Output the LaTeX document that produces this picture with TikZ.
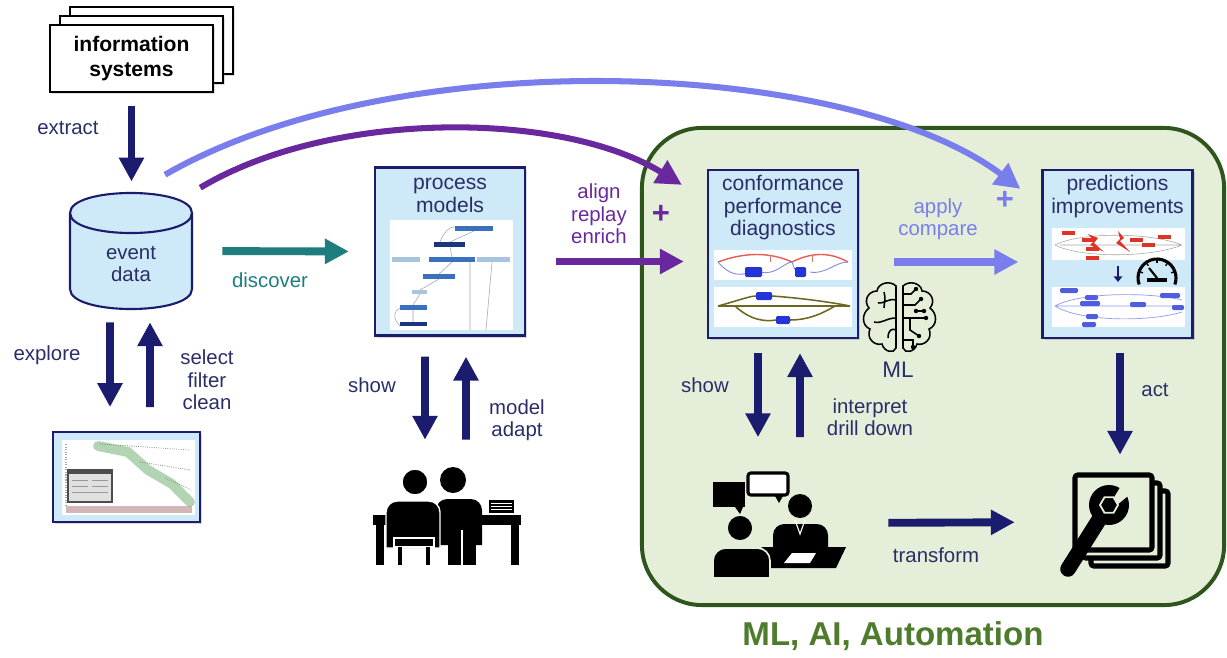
\documentclass[tikz,border=0pt]{standalone}
\usepackage{fontspec}
\setmainfont{Liberation Sans}
\usetikzlibrary{arrows.meta,shadows}

\definecolor{navy}{RGB}{28,28,110}
\definecolor{navytxt}{RGB}{42,46,104}
\definecolor{boxblue}{RGB}{206,234,248}
\definecolor{periw}{RGB}{122,126,236}
\definecolor{purp}{RGB}{106,40,158}
\definecolor{tealc}{RGB}{30,126,126}
\definecolor{mlfill}{RGB}{228,238,216}
\definecolor{mlline}{RGB}{46,86,28}
\definecolor{mltxt}{RGB}{78,124,44}
\definecolor{mapblue}{RGB}{36,52,214}
\definecolor{mapmid}{RGB}{58,112,190}
\definecolor{mapdark}{RGB}{26,54,124}
\definecolor{mappale}{RGB}{168,196,222}
\definecolor{mapred}{RGB}{222,52,40}

\begin{document}
\begin{tikzpicture}[x=0.025cm,y=-0.025cm,every node/.style={inner sep=0pt},
  lbl/.style={font=\fontsize{14.5}{16}\selectfont,text=navytxt,align=center},
  ttl/.style={font=\fontsize{15}{15.4}\selectfont,text=navytxt,align=center,anchor=north},
  box/.style={draw=navy,line width=1.6pt,fill=boxblue,minimum width=3.75cm,minimum height=4.2cm,
    drop shadow={opacity=.3,shadow xshift=1.5pt,shadow yshift=-1.5pt}},
  fat/.style={line width=5.6pt,-{Triangle[length=17pt,width=17pt]}},
  curvy/.style={line width=4.3pt,-{Triangle[length=18pt,width=18pt]}},
  plus/.style={font=\fontsize{22}{22}\bfseries},
  mini/.style={rounded corners=1pt},
]
\useasboundingbox (0,0) rectangle (1227,657);
\fill[white] (0,0) rectangle (1227,657);

% green automation area
\node[draw=mlline,fill=mlfill,line width=2.8pt,rounded corners=1.5cm,
  minimum width=14.55cm,minimum height=11.925cm] (ml) at (933,366.5) {};
\node[font=\fontsize{23.5}{24}\bfseries,text=mltxt] (mlai) at ([xshift=-1cm,yshift=-0.725cm]ml.south) {ML, AI, Automation};

% information systems (stacked sheets)
\foreach \d in {20,10}
  \draw[line width=1.2pt,fill=white,drop shadow={opacity=.25,shadow xshift=1.2pt,shadow yshift=-1.2pt}]
    (50+\d,25-0.9*\d) rectangle (213+\d,92-0.9*\d);
\node[draw,line width=1.2pt,fill=white,minimum width=4.075cm,minimum height=1.675cm,
  font=\fontsize{15}{17.8}\selectfont\bfseries,align=center,
  drop shadow={opacity=.25,shadow xshift=1.2pt,shadow yshift=-1.2pt}] (is) at (131.5,58.5) {information\\systems};

% event data cylinder
\node[minimum width=3.075cm,minimum height=2.9cm] (db) at (131,251) {};
\begin{scope}[shift={(db)},navy,line width=1.5pt]
  \draw[fill=boxblue] (-61,-38) -- (-61,38) .. controls (-61,64.7) and (61,64.7) .. (61,38)
    -- (61,-38) .. controls (61,-64.7) and (-61,-64.7) .. cycle;
  \draw (-61,-38) .. controls (-61,-11.3) and (61,-11.3) .. (61,-38);
\end{scope}
\node[lbl] (dbt) at (131,264) {event\\data};

% log view
\node[box,line width=1.3pt,minimum width=3.675cm,minimum height=2.25cm] (sc) at (126.5,477) {};
\fill[white] (62,440) rectangle (195,515);
\draw[green!45!black,opacity=.3,line width=7pt,line cap=round] (98,446) -- (128,452) -- (148,470) -- (172,484) -- (190,502);
\draw[black!45,densely dotted,line width=.6pt] (100,444) -- (190,450) (140,462) -- (190,470) (165,478) -- (192,490);
\draw[black!35,densely dotted,line width=.8pt] (66,444) -- (66,505);
\draw[draw=black!70,fill=black!12,line width=1pt] (68,470) rectangle (112,502);
\fill[black!70] (68,470) rectangle (112,474);
\draw[black!40,line width=.5pt] (72,480) -- (88,480) (72,486) -- (88,486) (92,480) -- (108,480) (92,486) -- (108,486) (72,492) -- (108,492);
\fill[red!25!gray,opacity=.45] (66,506) rectangle (192,513);

% process models
\node[box] (pm) at (450,251.5) {};
\node[ttl] (pmt) at ([yshift=-0.19cm]pm.north) {\strut process\\models};
\fill[white] (390,220) rectangle (513,330);
\draw[black!35,line width=.4pt] (474,231) -- (450,242) (450,247) -- (452,257) (452,262) -- (439,274)
  (439,279) -- (420,290) (420,294) -- (413,305) (413,310) -- (413,322)
  (465,231) .. controls (455,222) and (445,228) .. (440,242)
  (470,262) -- (470,330) (492,262) -- (486,330) (400,326) .. controls (392,318) and (394,310) .. (400,308);
\foreach \a/\b/\c/\d/\col in {455/226/493/231/mapmid, 434/242/465/247/mapdark, 392/257/420/262/mappale,
    429/257/475/262/mapmid, 477/257/510/262/mappale, 423/274/455/279/mapmid, 412/290/427/294/mappale,
    400/305/427/310/mapmid, 400/322/427/326/mapdark}
  \fill[\col] (\a,\b) rectangle (\c,\d);

% conformance box
\node[box] (cf) at (783,254) {};
\node[ttl] (cft) at ([yshift=-0.15cm]cf.north) {\strut conformance\\performance\\diagnostics};
\fill[white] (714,250) rectangle (852,280);
\fill[white] (714,287) rectangle (852,327);
\draw[mapred!80,line width=1pt] (718,262) .. controls (745,252) and (770,252) .. (792,262)
  .. controls (812,252) and (830,252) .. (848,262);
\draw[mapblue!60,line width=.6pt] (718,262) .. controls (730,276) and (740,276) .. (750,272)
  (760,272) .. controls (775,276) and (785,262) .. (792,262) .. controls (796,275) and (800,275) .. (805,272)
  (810,272) .. controls (825,275) and (835,262) .. (848,262);
\draw[mapred!70,line width=.6pt] (770,255) -- (770,262) (812,255) -- (812,262);
\fill[mapblue,mini] (745,267) rectangle (762,277);
\fill[mapblue,mini] (795,267) rectangle (806,277);
\draw[olive!70!black,line width=1.1pt] (718,306) .. controls (740,300) and (750,296) .. (756,296)
  (772,296) .. controls (800,298) and (830,302) .. (850,306)
  (718,306) -- (850,306)
  (735,306) .. controls (750,320) and (765,322) .. (776,320)
  (790,320) .. controls (810,320) and (825,312) .. (835,306);
\fill[mapblue,mini] (756,292) rectangle (772,300);
\fill[mapblue,mini] (776,316) rectangle (790,324);

% predictions box
\node[box] (pr) at (1117.5,254) {};
\node[ttl] (prt) at ([yshift=-0.15cm]pr.north) {\strut predictions\\improvements};
\fill[white] (1052,228) rectangle (1185,260);
\fill[white] (1052,287) rectangle (1185,327);
\draw[black!35,line width=.4pt] (1055,245) .. controls (1080,232) and (1150,232) .. (1182,245)
  (1055,245) .. controls (1080,258) and (1150,258) .. (1182,245) (1060,245) -- (1180,245);
\foreach \a/\b in {1062/231,1082/238,1086/247,1086/256,1130/238,1142/243,1158/235}
  \fill[mapred] (\a,\b) rectangle (\a+13,\b+4);
\fill[mapred] (1088,234) -- (1098,238) -- (1094,243) -- (1104,252) -- (1090,245) -- (1094,241) -- cycle;
\fill[mapred] (1118,231) -- (1124,238) -- (1120,241) -- (1130,252) -- (1116,243) -- (1120,239) -- cycle;
\draw[navy,line width=1.6pt,-{Triangle[length=4pt,width=6pt]}] (1118,266) -- (1118,282);
\draw[line width=2.2pt] (1157,278) ++(-200:19) arc[start angle=-200,end angle=20,radius=19];
\fill (1147,278) rectangle (1167,282);
\draw[line width=1.5pt] (1157,278) -- (1149,268);
\foreach \t in {-160,-125,-90,-55,-20}
  \draw[line width=1pt] (1157,278) ++(\t:15) -- ++(\t:3);
\draw[mapblue!50,line width=.5pt] (1055,306) .. controls (1080,292) and (1150,292) .. (1182,300)
  (1055,306) -- (1182,306) (1055,306) .. controls (1080,322) and (1150,322) .. (1182,312);
\foreach \a/\b/\w in {1060/288/18,1085/295/13,1080/301/20,1130/302/16,1160/293/20,1086/314/12,1082/322/14,1172/305/12}
  \fill[mapblue!80,mini] (\a,\b) rectangle (\a+\w,\b+5);

% brain
\node[minimum width=1.75cm,minimum height=1.8cm] (br) at (899,318) {};
\begin{scope}[line width=1.1pt]
  \draw (896,286) .. controls (890,280) and (878,283) .. (877,291)
    .. controls (868,291) and (863,301) .. (869,308)
    .. controls (861,314) and (862,326) .. (870,329)
    .. controls (866,338) and (874,346) .. (882,344)
    .. controls (884,352) and (894,354) .. (896,348) -- cycle;
  \draw (896,300) .. controls (888,298) and (884,304) .. (878,303)
    (896,318) .. controls (886,318) and (882,324) .. (874,322)
    (888,338) .. controls (888,330) and (892,328) .. (896,330)
    (884,292) .. controls (886,298) and (884,304) .. (884,308);
  \begin{scope}[shift={(1799,0)},xscale=-1]
    \draw (896,286) .. controls (890,280) and (878,283) .. (877,291)
      .. controls (868,291) and (863,301) .. (869,308)
      .. controls (861,314) and (862,326) .. (870,329)
      .. controls (866,338) and (874,346) .. (882,344)
      .. controls (884,352) and (894,354) .. (896,348) -- cycle;
  \end{scope}
  \draw (903,294) -- (911,294) -- (916,289) (903,305) -- (915,305) -- (921,299)
    (903,318) -- (926,318) (910,318) -- (910,330) -- (919,336) (903,340) -- (913,340) -- (913,347)
    (916,311) -- (924,311);
  \foreach \p in {(916,289),(921,299),(926,318),(919,336),(913,347),(924,311),(916,311)}
    \fill \p circle[radius=2.2];
\end{scope}
\node[lbl,font=\fontsize{16}{16}\selectfont] (lml) at (898,370) {ML};

% analysts at a desk
\node[minimum width=3.625cm,minimum height=2.5cm] (pp) at (448,515) {};
\fill (453,480) circle[radius=13];
\fill (436,545) [rounded corners=8pt] -- (436,499) -- (482,499) [sharp corners] -- (482,545) -- cycle;
\fill (448,527) rectangle (476,565);
\draw[white,line width=.8pt] (462,530) -- (462,565);
\fill (373,515) rectangle (521,525);
\fill (376,525) rectangle (384,565);
\fill (511,525) rectangle (519,565);
\fill (489,500) rectangle (514,513);
\foreach \yy in {503,506,509} \draw[white,line width=.6pt] (491,\yy) -- (512,\yy);
\filldraw[draw=white,line width=1pt] (415,482) circle[radius=13];
\filldraw[draw=white,line width=1pt] (386,548) [rounded corners=8pt] -- (386,501) -- (440,501) [sharp corners] -- (440,548) -- cycle;
\filldraw[draw=white,line width=1pt] (394,538) rectangle (434,547);
\draw[line width=3pt] (400,547) -- (400,565) (428,547) -- (428,565);

% meeting
\node[minimum width=3.325cm,minimum height=2.675cm] (mt) at (778,523) {};
\fill (713,482) rectangle (745,507);
\fill (735,507) -- (743,507) -- (740,514) -- cycle;
\draw[line width=2.2pt,fill=white,rounded corners=2pt] (748,473) rectangle (788,495);
\fill (775,496) -- (783,496) -- (779,503) -- cycle;
\fill (800,506) circle[radius=12];
\fill (773,548) [rounded corners=8pt] -- (773,524) -- (828,524) [sharp corners] -- (828,548) -- cycle;
\draw[white,line width=.8pt] (795,520) -- (800,534) -- (805,520);
\fill (762,547) -- (846,547) -- (836,568) -- (748,568) -- cycle;
\fill[white] (792,553) -- (816,553) -- (810,563) -- (784,563) -- cycle;
\filldraw[draw=mlfill,line width=1.2pt] (740,528) circle[radius=13];
\filldraw[draw=mlfill,line width=1.2pt] (713,578) [rounded corners=9pt] -- (713,548) -- (770,548) [sharp corners] -- (770,578) -- cycle;

% improvement tool
\node[minimum width=2.55cm,minimum height=2.75cm] (tl) at (1121,530) {};
\foreach \d in {16,8,0}
  \draw[line width=3.6pt,fill=mlfill,rounded corners=2pt] (1075+\d,475+\d) rectangle (1152+\d,550+\d);
\draw[line width=11pt,line cap=round] (1068,569) -- (1102,515);
\fill (1109,505) circle[radius=20];
\fill[mlfill] (1113,499) -- (1124,481) -- (1134,491) -- (1117,505) -- cycle;
\filldraw[draw=mlfill,line width=1.3pt] (1109,505) +(0:9) -- +(60:9) -- +(120:9) -- +(180:9) -- +(240:9) -- +(300:9) -- cycle;

% flows
\coordinate (s1) at ([shift={(34,-18)}]db.north);
\coordinate (e1) at ([shift={(-21,20)}]pr.north west);
\coordinate (s2) at ([shift={(7.5,-5)}]db.north east);
\coordinate (e2) at ([shift={(-25,16)}]cf.north west);
\draw[curvy,periw] (s1) .. controls (400,40) and (850,60) .. (e1);
\draw[curvy,purp] (s2) .. controls (330,110) and (560,110) .. (e2);

\draw[fat,navy,shorten <=0.33cm,shorten >=0.28cm] (is.south) -- (is.south |- db.north);
\draw[fat,navy,shorten <=0.325cm,shorten >=0.6cm] ([xshift=-0.525cm]db.south) -- ([xshift=-0.4125cm]sc.north);
\draw[fat,navy,shorten <=0.6cm,shorten >=0.325cm] ([xshift=0.5875cm]sc.north) -- ([xshift=0.475cm]db.south);
\draw[fat,tealc,shorten <=0.74cm,shorten >=0.625cm] (db.east) -- (pm.west);
\draw[fat,navy,shorten <=0.5cm,shorten >=0.625cm] ([xshift=-0.625cm]pm.south) -- ([xshift=-0.575cm]pp.north);
\draw[fat,navy,shorten <=0.625cm,shorten >=0.5cm] ([xshift=0.45cm]pp.north) -- ([xshift=0.4cm]pm.south);
\draw[fat,purp,shorten <=0.75cm,shorten >=0.575cm] ([yshift=-0.25cm]pm.east) -- ([yshift=-0.25cm]pm.east -| cf.west);
\draw[fat,periw,shorten <=0.875cm,shorten >=0.575cm] ([yshift=-0.2cm]cf.east) -- ([yshift=-0.2cm]cf.east -| pr.west);
\draw[fat,navy,shorten <=0.35cm,shorten >=0.8cm] ([xshift=-0.625cm]cf.south) -- ([xshift=-0.5cm]mt.north);
\draw[fat,navy,shorten <=0.8cm,shorten >=0.35cm] ([xshift=0.55cm]mt.north) -- ([xshift=0.425cm]cf.south);
\draw[fat,navy,shorten <=0.35cm,shorten >=0.5cm] ([xshift=0.0625cm]pr.south) -- ([xshift=-0.025cm]tl.north);
\draw[fat,navy,shorten <=1.09cm,shorten >=1.375cm] (mt.east) -- ([yshift=0.2cm]tl.west);

% labels
\node[lbl] (lex) at (68,128) {extract};
\node[lbl] (lexp) at (47,355) {explore};
\node[lbl] (lsel) at (207,380) {select\\filter\\clean};
\node[lbl,text=tealc] (ldis) at (270,280) {discover};
\node[lbl] (lsh1) at (372,385) {show};
\node[lbl] (lmod) at (517,420) {model\\adapt};
\node[lbl,text=purp] (lali) at (599,214) {align\\replay\\enrich};
\node[plus,text=purp] (pl1) at (661,214) {+};
\node[lbl,text=periw] (lapp) at (938,219) {apply\\compare};
\node[plus,text=periw] (pl2) at (1005,200) {+};
\node[lbl] (lsh2) at (705,385) {show};
\node[lbl] (lint) at (870,417) {interpret\\drill down};
\node[lbl] (lact) at (1155,390) {act};
\node[lbl] (ltr) at (936,555) {transform};
\end{tikzpicture}
\end{document}
